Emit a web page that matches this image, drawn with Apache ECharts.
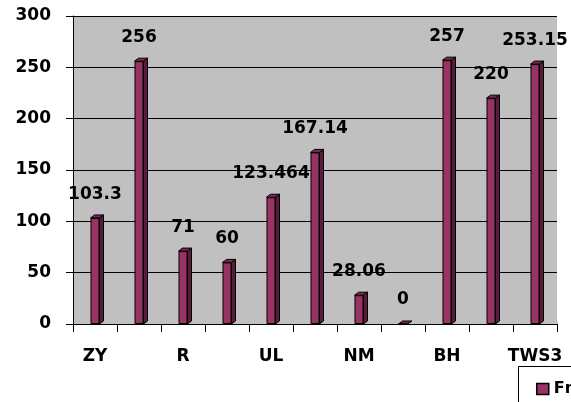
<!DOCTYPE html>
<html>
<head>
<meta charset="utf-8">
<script src="https://cdn.jsdelivr.net/npm/echarts@6/dist/echarts.min.js"></script>
<style>
  html, body { margin: 0; padding: 0; background: #ffffff; }
  #chart { width: 571px; height: 402px; }
</style>
</head>
<body>
<div id="chart"></div>
<script>
// Categories (only every other one carries a printed name)
const categories = ['ZY', '', 'R', '', 'UL', '', 'NM', '', 'BH', '', 'TWS3'];
// Series values
const fnValues = [103.3, 256, 71, 60, 123.464, 167.14, 28.06, 0, 257, 220, 253.15];
// Value axis ticks
const yTicks = [0, 50, 100, 150, 200, 250, 300];
const seriesName = 'Fn';

const FONT = 'DejaVu Sans';
const FACE = '#993366';
const SIDE = '#5a1c3b';
const TOP = '#7d2a53';

const chart = echarts.init(document.getElementById('chart'), null, { renderer: 'canvas' });

// Draws the depth (right side and top cap) of each column
function renderDepth(params, api) {
  const top = api.coord([api.value(0), api.value(1)]);
  const base = api.coord([api.value(0), 0]);
  const half = 4.5, dx = 4, dy = 3;
  const r = top[0] + half, l = top[0] - half;
  return {
    type: 'group',
    children: [
      {
        type: 'polygon',
        shape: { points: [[r, top[1]], [r + dx, top[1] - dy], [r + dx, base[1] - dy], [r, base[1]]] },
        style: { fill: SIDE, stroke: '#000', lineWidth: 1 }
      },
      {
        type: 'polygon',
        shape: { points: [[l, top[1]], [l + dx, top[1] - dy], [r + dx, top[1] - dy], [r, top[1]]] },
        style: { fill: TOP, stroke: '#000', lineWidth: 1 }
      }
    ]
  };
}

chart.setOption({
  animation: false,
  backgroundColor: '#ffffff',
  textStyle: { fontFamily: FONT },
  grid: {
    left: 73, right: 14, top: 16, bottom: 78,
    show: true, backgroundColor: '#c0c0c0', borderWidth: 0
  },
  graphic: [
    // side wall and floor of the plot box
    { type: 'rect', shape: { x: 73.5, y: 16, width: 3.5, height: 308 }, style: { fill: '#8c8c8c' }, z: -1 },
    { type: 'rect', shape: { x: 73.5, y: 320.5, width: 484, height: 3.5 }, style: { fill: '#a6a6a6' }, z: -1 },
    // legend frame, running off the page edge
    { type: 'rect', shape: { x: 518.5, y: 366.5, width: 80, height: 60 },
      style: { fill: '#ffffff', stroke: '#000', lineWidth: 1 }, z: 0 }
  ],
  legend: {
    show: true,
    left: 518, top: 366,
    padding: [15, 10, 10, 18],
    itemWidth: 12, itemHeight: 11,
    icon: 'rect',
    borderWidth: 0,
    textStyle: { fontFamily: FONT, fontSize: 16, fontWeight: 'bold', color: '#000', width: 60 },
    itemStyle: { borderColor: '#000', borderWidth: 1.5 },
    data: [seriesName],
    z: 5
  },
  xAxis: {
    type: 'category',
    data: categories,
    boundaryGap: true,
    axisLine: { show: true, lineStyle: { color: '#000', width: 1 } },
    axisTick: { show: true, interval: 0, length: 8, lineStyle: { color: '#000' } },
    axisLabel: {
      interval: 0, margin: 24,
      fontFamily: FONT, fontSize: 17, fontWeight: 'bold', color: '#000'
    }
  },
  yAxis: {
    type: 'value',
    min: yTicks[0], max: yTicks[yTicks.length - 1], interval: yTicks[1] - yTicks[0],
    axisLine: { show: true, lineStyle: { color: '#000', width: 1 } },
    axisTick: { show: true, length: 7, lineStyle: { color: '#000' } },
    splitLine: { show: true, lineStyle: { color: '#000', width: 1 } },
    axisLabel: { margin: 22, fontFamily: FONT, fontSize: 17, fontWeight: 'bold', color: '#000' }
  },
  series: [
    {
      name: seriesName,
      type: 'bar',
      data: fnValues,
      barWidth: 9,
      itemStyle: { color: FACE, borderColor: '#000', borderWidth: 1 },
      label: {
        show: true, position: 'top', distance: 15,
        fontFamily: FONT, fontSize: 17, fontWeight: 'bold', color: '#000'
      },
      z: 3
    },
    {
      name: 'depth',
      type: 'custom',
      silent: true,
      renderItem: renderDepth,
      data: fnValues.map((v, i) => [i, v]),
      z: 2
    }
  ]
});
</script>
</body>
</html>
